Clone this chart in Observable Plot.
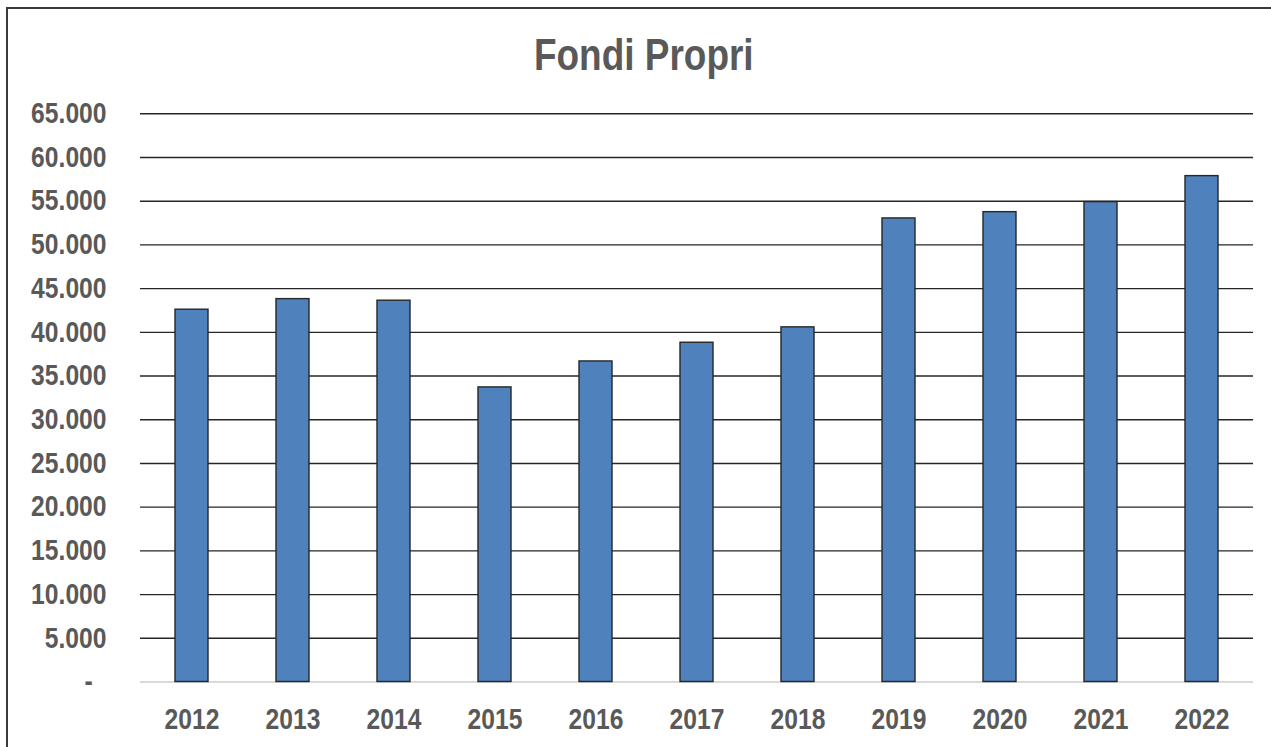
<!DOCTYPE html>
<html>
<head>
<meta charset="utf-8">
<script src="https://cdn.jsdelivr.net/npm/d3@7"></script>
<script src="https://cdn.jsdelivr.net/npm/@observablehq/plot@0.6"></script>
<style>
  html, body { margin: 0; padding: 0; background: #fff; }
  #wrap { position: relative; width: 1271px; height: 747px; overflow: hidden; background: #fff; }
  #frame { position: absolute; left: 6px; top: 7px; width: 1300px; height: 800px; border: 2px solid #3a3a3a; box-sizing: border-box; }
  #title { position: absolute; left: 0; top: 0; width: 1271px; height: 90px; text-align: center;
    font-family: "Liberation Sans", Arial, sans-serif; font-weight: bold;
    font-size: 44px; color: #595959; line-height: 1; padding-left: 17px; box-sizing: border-box; padding-top: 33px; }
  #title span { display: inline-block; transform: scaleX(0.84); transform-origin: center; }
  #chart { position: absolute; left: 0; top: 90px; }
  #chart svg { overflow: visible; }
</style>
</head>
<body>
<div id="wrap">
  <div id="frame"></div>
  <div id="title"><span>Fondi Propri</span></div>
  <div id="chart"></div>
</div>
<script>
const years = ["2012","2013","2014","2015","2016","2017","2018","2019","2020","2021","2022"];
const values = [42590, 43800, 43620, 33700, 36670, 38810, 40570, 53030, 53750, 54900, 57870];
const yTicks = [0,5000,10000,15000,20000,25000,30000,35000,40000,45000,50000,55000,60000,65000];

const data = years.map((y, i) => ({year: y, value: values[i]}));
const fmt = d => d === 0 ? "-\u2007" : d3.format(",")(d).replace(/,/g, ".");

const plot = Plot.plot({
  width: 1271,
  height: 657,
  marginTop: 23.3,
  marginBottom: 65.5,
  marginLeft: 140,
  marginRight: 18,
  style: {
    fontFamily: '"Liberation Sans", Arial, sans-serif',
    fontWeight: "bold",
    fontSize: "29px",
    color: "#595959",
    background: "transparent"
  },
  x: { domain: years, paddingInner: 0.674, paddingOuter: 0.337, align: 0.5, label: null },
  y: { domain: [0, 65000], label: null },
  marks: [
    Plot.ruleY(yTicks.filter(d => d > 0), { stroke: "#262626", strokeWidth: 1.4 }),
    Plot.ruleY([0], { stroke: "#d9d9d9", strokeWidth: 2 }),
    Plot.barY(data, { x: "year", y: "value", fill: "#4f81bd", stroke: "#262626", strokeWidth: 1.4 }),
    Plot.axisX({ tickSize: 0, tickPadding: 26.5, fill: "#595959", fontWeight: "bold" }),
    Plot.axisY({ ticks: yTicks, tickSize: 0, tickPadding: 34, tickFormat: fmt, fill: "#595959", fontWeight: "bold" })
  ]
});
document.getElementById("chart").appendChild(plot);
// condense the axis labels (narrow bold face)
plot.querySelectorAll('g[aria-label$="tick label"] text').forEach(t => {
  const w = t.getComputedTextLength();
  if (w > 0) {
    t.setAttribute("textLength", (w * 0.85).toFixed(2));
    t.setAttribute("lengthAdjust", "spacingAndGlyphs");
  }
});
</script>
</body>
</html>
